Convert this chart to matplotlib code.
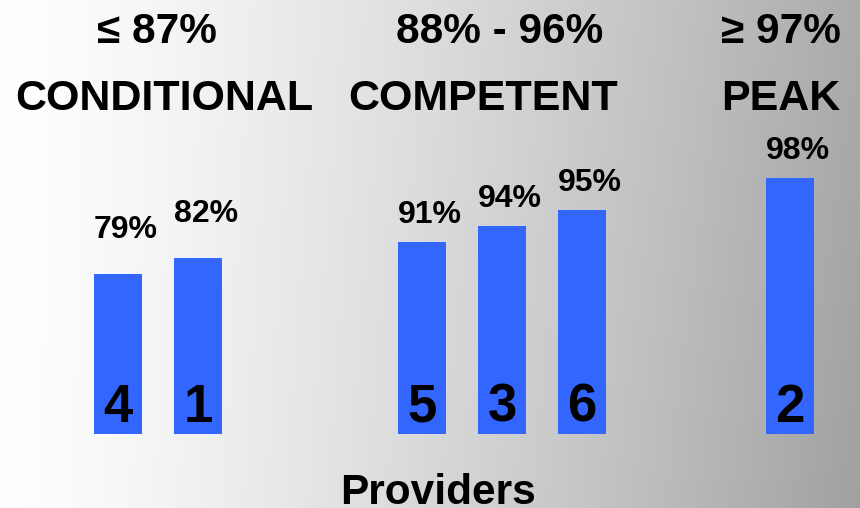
import numpy as np
import matplotlib
matplotlib.use("Agg")
import matplotlib.pyplot as plt

# data
providers = ["4", "1", "5", "3", "6", "2"]
scores = [79, 82, 91, 94, 95, 98]
bar_heights = [10, 11, 12, 13, 14, 16]   # relative bar heights as drawn
groups = ["CONDITIONAL", "COMPETENT", "PEAK"]
ranges = ["\u2264 87%", "88% - 96%", "\u2265 97%"]
bar_group = [0, 0, 1, 1, 1, 2]

plt.rcParams['font.family'] = ['Liberation Sans', 'DejaVu Sans']
plt.rcParams['font.weight'] = 'bold'

fig = plt.figure(figsize=(8.6, 5.08), dpi=100)

# background gradient, white on the left to grey on the right
bg = fig.add_axes([0, 0, 1, 1], zorder=0)
xx, yy = np.meshgrid(np.linspace(0, 1, 430), np.linspace(0, 1, 254))
shade = 1 - 0.33 * xx ** 1.3 - 0.04 * yy * xx
bg.imshow(np.dstack([shade] * 3), extent=[0, 1, 0, 1], aspect='auto', origin='upper')
bg.axis('off')

ax = fig.add_axes([0, 0, 1, 1], zorder=1)
ax.patch.set_alpha(0)
ax.axis('off')
ax.set_xlim(-118 / 80, (860 - 118) / 80)
ax.set_ylim(-(508 - 434) / 16, 434 / 16)

xpos = [0, 1, 3.8, 4.8, 5.8, 8.4]
ax.bar(xpos, bar_heights, width=0.6, color='#3366ff', zorder=2)

for x, h, s, p, g in zip(xpos, bar_heights, scores, providers, bar_group):
    gap = 2.25 if g == 0 else 1.2
    ax.text(x + 0.1, h + gap, f"{s}%", ha='center', va='baseline',
            fontsize=23, fontweight='bold', zorder=3)
    ax.text(x, 0.75, p, ha='center', va='baseline',
            fontsize=38, fontweight='bold', zorder=3)

head_x = [(0.49, 0.575), (4.77, 4.57), (8.29, 8.29)]
for (x1, x2), r, name in zip(head_x, ranges, groups):
    ax.text(x1, 24.44, r, ha='center', va='baseline', fontsize=30.5, fontweight='bold')
    ax.text(x2, 20.25, name, ha='center', va='baseline', fontsize=31, fontweight='bold')

ax.text((438 - 118) / 80, -4.4, "Providers", ha='center', va='baseline',
        fontsize=30.5, fontweight='bold')

fig.savefig("out.png", dpi=100)
